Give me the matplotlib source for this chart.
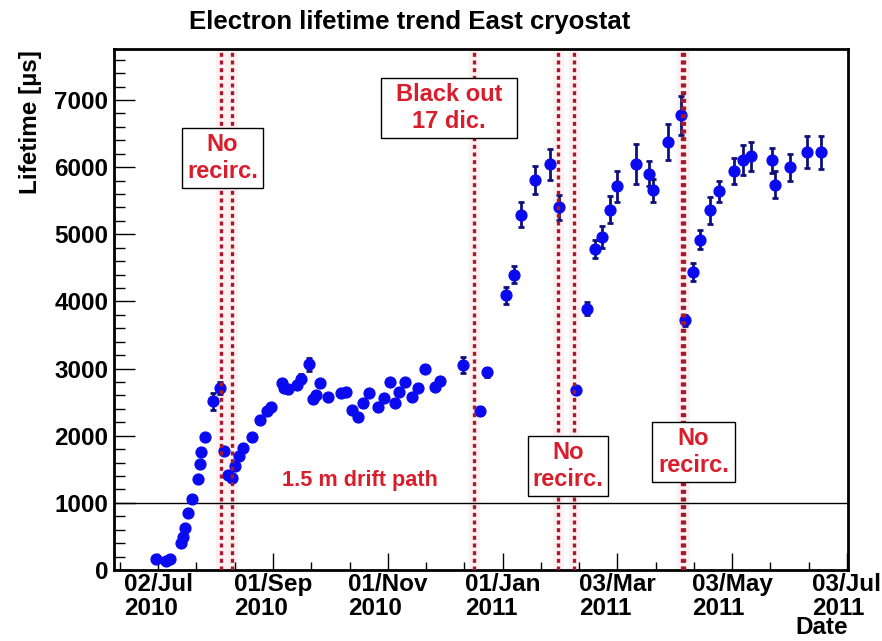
import matplotlib
matplotlib.use("Agg")
import matplotlib.pyplot as plt
import matplotlib.dates as mdates
from matplotlib.patches import Rectangle
import numpy as np
import pandas as pd

plt.rcParams['font.family'] = ['Liberation Sans', 'DejaVu Sans']
plt.rcParams['font.weight'] = 'bold'

# measurement dates and electron lifetime [us]
dates = ['2010-07-01', '2010-07-06', '2010-07-08', '2010-07-14', '2010-07-15',
         '2010-07-16', '2010-07-18', '2010-07-20', '2010-07-23', '2010-07-24',
         '2010-07-25', '2010-07-27', '2010-07-31', '2010-08-04', '2010-08-06',
         '2010-08-08', '2010-08-10', '2010-08-12', '2010-08-14', '2010-08-16',
         '2010-08-21', '2010-08-25', '2010-08-29', '2010-08-31', '2010-09-06',
         '2010-09-07', '2010-09-09', '2010-09-14', '2010-09-16', '2010-09-20',
         '2010-09-22', '2010-09-24', '2010-09-26', '2010-09-30', '2010-10-07',
         '2010-10-10', '2010-10-13', '2010-10-16', '2010-10-19', '2010-10-22',
         '2010-10-27', '2010-10-30', '2010-11-02', '2010-11-05', '2010-11-07',
         '2010-11-10', '2010-11-14', '2010-11-17', '2010-11-21', '2010-11-26',
         '2010-11-29', '2010-12-11', '2010-12-20', '2010-12-24', '2011-01-03',
         '2011-01-07', '2011-01-11', '2011-01-18', '2011-01-26', '2011-01-31',
         '2011-02-09', '2011-02-15', '2011-02-19', '2011-02-23', '2011-02-27',
         '2011-03-03', '2011-03-13', '2011-03-20', '2011-03-22', '2011-03-30',
         '2011-04-06', '2011-04-08', '2011-04-12', '2011-04-16', '2011-04-21',
         '2011-04-26', '2011-05-04', '2011-05-09', '2011-05-13', '2011-05-24',
         '2011-05-26', '2011-06-03', '2011-06-12', '2011-06-19']
lifetime = [160, 140, 160, 406, 496, 625, 853, 1052, 1350, 1573,
            1751, 1975, 2515, 2704, 1775, 1414, 1364, 1548, 1696, 1820,
            1975, 2232, 2370, 2430, 2778, 2713, 2690, 2753, 2852, 3065,
            2540, 2604, 2778, 2570, 2630, 2654, 2381, 2272, 2480, 2638,
            2421, 2564, 2802, 2490, 2654, 2802, 2580, 2713, 3001, 2728,
            2812, 3051, 2366, 2942, 4092, 4400, 5293, 5804, 6042, 5406,
            2679, 3894, 4787, 4960, 5368, 5714, 6042, 5903, 5655, 6374,
            6771, 3720, 4439, 4921, 5357, 5640, 5942, 6101, 6161, 6101,
            5739, 6001, 6223, 6223]
errors = [30, 30, 30, 40, 40, 40, 40, 45, 45, 50,
          50, 50, 125, 90, 50, 50, 50, 50, 50, 50,
          50, 50, 50, 50, 60, 50, 50, 60, 60, 100,
          50, 50, 50, 50, 50, 50, 50, 50, 50, 50,
          50, 50, 50, 50, 50, 50, 50, 50, 50, 50,
          50, 120, 60, 60, 125, 130, 190, 210, 230, 186,
          60, 100, 135, 160, 205, 233, 300, 186, 175, 265,
          285, 80, 136, 140, 200, 160, 200, 223, 218, 190,
          205, 200, 238, 248]

# periods without recirculation / black out
stop_lines = ['2010-08-04 10:00', '2010-08-10 05:00', '2010-12-17 00:00',
              '2011-01-30 10:00', '2011-02-08 00:00',
              '2011-04-06 12:00', '2011-04-07 12:00']

x = pd.to_datetime(dates)

fig = plt.figure(figsize=(8.82, 6.41), dpi=100)
ax = fig.add_axes([114 / 882, 71 / 641, 734 / 882, 521 / 641])

ax.errorbar(x, lifetime, yerr=errors, fmt='o', color='#0a0af0', ms=7.8,
            ecolor='#10107a', elinewidth=2, capsize=2.5, capthick=2, zorder=3)

for d in pd.to_datetime(stop_lines):
    ax.axvline(d, color='#fdf0f1', lw=8, zorder=1)
    ax.axvline(d, color='#a8182a', lw=2.4, ls=(0, (1.2, 1.1)), zorder=4)

ax.axhline(1000, color='black', lw=1, zorder=2)

ax.set_ylim(0, 7760)
start = pd.Timestamp('2010-07-02')
ax.set_xlim(start - pd.Timedelta(days=23.5), start + pd.Timedelta(days=366.6))

major = pd.date_range(start, periods=7, freq='61D')
ax.set_xticks(major)
ax.set_xticklabels([d.strftime('%d/%b\n%Y') for d in major])
minor = mdates.date2num(start) + np.arange(-1, 19) * 61 / 3
ax.set_xticks(minor, minor=True)
ax.set_yticks(np.arange(0, 7001, 1000))
ax.set_yticks(np.arange(0, 7700, 200), minor=True)

ax.tick_params(axis='both', which='both', direction='in', labelsize=17.5,
               top=False, right=False)
ax.tick_params(axis='x', which='major', length=12, width=1, pad=2)
ax.tick_params(axis='x', which='minor', length=6, width=1)
ax.tick_params(axis='y', which='major', length=15, width=1, pad=4)
ax.tick_params(axis='y', which='minor', length=8, width=1)
for lbl in ax.get_xticklabels():
    lbl.set_multialignment('left')
    lbl.set_linespacing(1.05)
for s in ax.spines.values():
    s.set_linewidth(2)

# annotation boxes (axes fraction)
boxes = [((0.0926, 0.7332), 0.1104, 0.1152, 'No\nrecirc.'),
         ((0.3638, 0.8292), 0.1852, 0.1151, 'Black out\n17 dic.'),
         ((0.5640, 0.1420), 0.1090, 0.1152, 'No\nrecirc.'),
         ((0.7330, 0.1689), 0.1130, 0.1152, 'No\nrecirc.')]
for (bx, by), bw, bh, txt in boxes:
    ax.add_patch(Rectangle((bx, by), bw, bh, transform=ax.transAxes,
                           fc='white', ec='black', lw=1, zorder=5))
    ax.text(bx + bw / 2, by + bh / 2, txt, transform=ax.transAxes,
            ha='center', va='center', color='#d81e2c', fontsize=17,
            linespacing=1.25, zorder=6)

ax.text(0.335, 0.1727, '1.5 m drift path', transform=ax.transAxes,
        ha='center', va='center', color='#d81e2c', fontsize=15.6)

fig.text(0.465, 1 - 22 / 641, 'Electron lifetime trend East cryostat',
         ha='center', va='center', fontsize=18.5)
fig.text(30 / 882, 1 - 50 / 641, 'Lifetime [µs]', rotation=90,
         ha='center', va='top', fontsize=17.5)
fig.text(848 / 882, 1 - 628 / 641, 'Date', ha='right', va='center',
         fontsize=17.5)

fig.savefig('out.png', dpi=100)
